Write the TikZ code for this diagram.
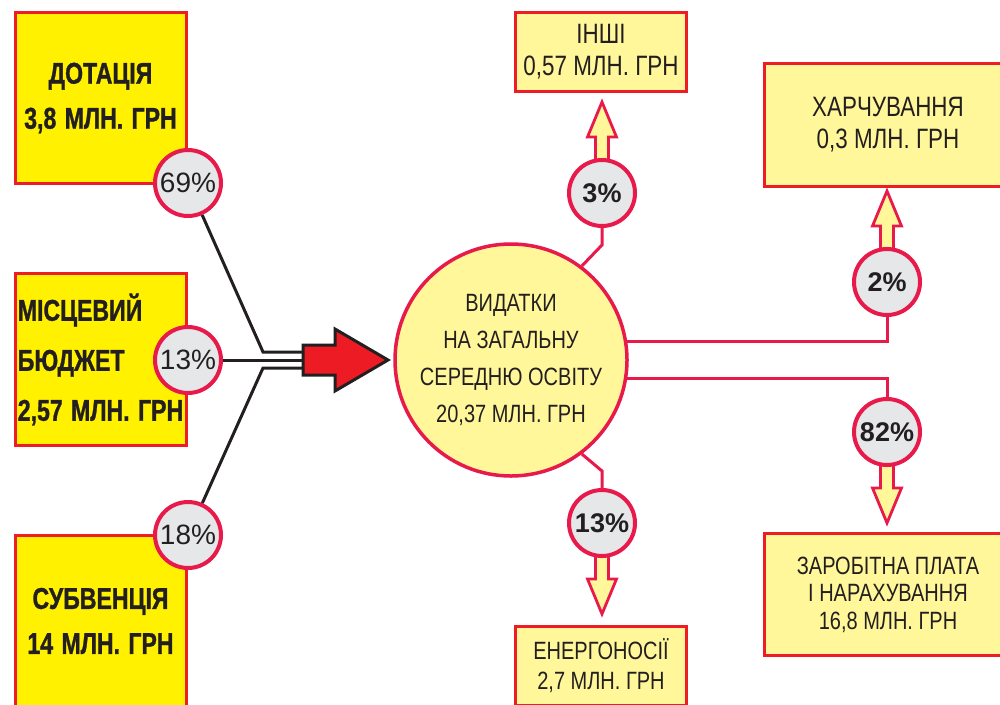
\documentclass[tikz,border=0pt]{standalone}
\usepackage{fontspec}
\setmainfont{Liberation Sans}
\newfontfamily\narrowfont[FakeStretch=0.8]{Liberation Sans}
\newfontfamily\heavyfont[FakeStretch=0.77, FakeBold=1, WordSpace=1.3]{Liberation Sans}
\usetikzlibrary{backgrounds}
\definecolor{boxyellow}{HTML}{FFF100}
\definecolor{paleyellow}{HTML}{FFF799}
\definecolor{boxred}{HTML}{EE1C25}
\definecolor{rimred}{HTML}{E8194B}
\definecolor{pctgrey}{HTML}{E6E7E8}
\definecolor{inkblack}{HTML}{231F20}
\definecolor{arrowred}{HTML}{ED1C24}
\begin{document}
\begin{tikzpicture}[x=1pt, y=-1pt,
  srcbox/.style={draw=boxred, line width=3pt, fill=boxyellow, minimum width=171pt, minimum height=171pt, inner sep=0pt, align=center, text=inkblack, font=\heavyfont\bfseries\fontsize{30}{45}\selectfont},
  costbox/.style={draw=boxred, line width=3pt, fill=paleyellow, inner sep=0pt, align=center, text=inkblack},
  pct/.style={circle, draw=rimred, line width=4pt, fill=pctgrey, minimum size=66pt, inner sep=0pt, text=inkblack, font=\fontsize{28}{30}\selectfont},
  flow/.style={draw=rimred, line width=3pt},
  feed/.style={draw=inkblack, line width=3pt},
  outarrow/.style={draw=rimred, line width=2.8pt, fill=paleyellow, line join=miter}]
\useasboundingbox (0,0) rectangle (1000,704);
\clip (0,0) rectangle (1000,704);

% sources
\node[srcbox] (dotacia) at (100.5,98) {ДОТАЦІЯ\\3,8 МЛН. ГРН};
\node[srcbox, minimum height=172pt, align=left, font=\heavyfont\bfseries\fontsize{30}{50}\selectfont] (budget) at (100.5,359.5) {МІСЦЕВИЙ\\БЮДЖЕТ\\2,57 МЛН. ГРН};
\node[srcbox] (subvencia) at (100.5,621) {СУБВЕНЦІЯ\\14 МЛН. ГРН};

% expenses
\node[circle, draw=rimred, line width=3.5pt, fill=paleyellow, minimum size=232pt, inner sep=0pt, align=center, text=inkblack, font=\narrowfont\fontsize{25}{37}\selectfont] (vydatky) at (511,360) {ВИДАТКИ\\НА ЗАГАЛЬНУ\\СЕРЕДНЮ ОСВІТУ\\20,37 МЛН. ГРН};
\node[costbox, minimum width=171pt, minimum height=79pt, font=\narrowfont\fontsize{28}{32}\selectfont] (inshi) at (601,52) {ІНШІ\\0,57 МЛН. ГРН};
\node[costbox, minimum width=247pt, minimum height=123pt, font=\narrowfont\fontsize{28}{32}\selectfont] (harch) at (888,125) {ХАРЧУВАННЯ\\0,3 МЛН. ГРН};
\node[costbox, minimum width=247pt, minimum height=122pt, font=\narrowfont\fontsize{25}{27.5}\selectfont] (zarplata) at (888,594.5) {ЗАРОБІТНА ПЛАТА\\І НАРАХУВАННЯ\\16,8 МЛН. ГРН};
\node[costbox, minimum width=171pt, minimum height=79pt, font=\narrowfont\fontsize{25}{30}\selectfont] (energo) at (601,666) {ЕНЕРГОНОСІЇ\\2,7 МЛН. ГРН};

% shares
\foreach \name/\x/\y/\val in {p69/188/183/69, p13a/188/360/13, p18/188/535/18}
  \node[pct] (\name) at (\x,\y) {\val\%};
\foreach \name/\x/\y/\val in {p3/602/193/3, p2/887/282/2, p82/887/432/82, p13b/602/523/13}
  \node[pct, font=\bfseries\fontsize{27}{30}\selectfont] (\name) at (\x,\y) {\val\%};

% black feed lines and the red arrow
\coordinate (j1) at (263,352);
\coordinate (j3) at (263,368);
\coordinate (t1) at (304,352);
\coordinate (t2) at (304,360);
\coordinate (t3) at (304,368);
\draw[feed] (p69) -- (j1) -- (t1);
\draw[feed] (p13a) -- (t2);
\draw[feed] (p18) -- (j3) -- (t3);
\draw[draw=inkblack, line width=3pt, fill=arrowred, line join=miter] (303,345) -- (335,345) -- (335,329) -- (388,360) -- (335,391) -- (335,375) -- (303,375) -- cycle;

% red flow lines
\coordinate (k3) at (602,245);
\coordinate (k13) at (602,471);
\draw[flow] (vydatky.53) -- (k3) -- (p3);
\draw[flow] (vydatky.-53) -- (k13) -- (p13b);
\draw[flow] (vydatky.9) -| (p2);
\draw[flow] (vydatky.-9) -| (p82);

\begin{scope}[on background layer]
\foreach \name/\side/\dir in {p3/north/-1, p2/north/-1, p82/south/1, p13b/south/1}
  \draw[outarrow, shift={(\name.\side)}, yscale=\dir] (-6.5,-4) -- (-6.5,21) -- (-14.5,21) -- (0,56) -- (14.5,21) -- (6.5,21) -- (6.5,-4) -- cycle;
\end{scope}
\end{tikzpicture}
\end{document}
